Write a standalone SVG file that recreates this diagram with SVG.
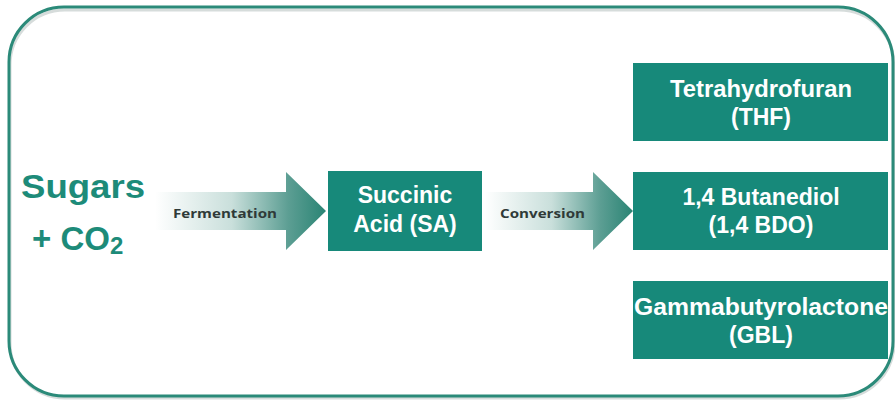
<svg xmlns="http://www.w3.org/2000/svg" width="895" height="401" viewBox="0 0 895 401">
  <defs>
    <linearGradient id="gradFerment" gradientUnits="userSpaceOnUse" x1="155" y1="0" x2="326" y2="0">
      <stop offset="0" stop-color="#ffffff"/>
      <stop offset="0.45" stop-color="#c9dfdb"/>
      <stop offset="0.78" stop-color="#5c9e93"/>
      <stop offset="1" stop-color="#2a8474"/>
    </linearGradient>
    <linearGradient id="gradConvert" gradientUnits="userSpaceOnUse" x1="485" y1="0" x2="633" y2="0">
      <stop offset="0" stop-color="#ffffff"/>
      <stop offset="0.45" stop-color="#c9dfdb"/>
      <stop offset="0.78" stop-color="#5c9e93"/>
      <stop offset="1" stop-color="#2a8474"/>
    </linearGradient>
  </defs>
  <style>
    .frame { fill: none; stroke: #2b8a79; stroke-width: 3; }
    .shadow { fill: none; stroke: #d6dcdb; stroke-width: 3; }
    .box { fill: #17897a; }
    .boxText { font-family: "Liberation Sans", Arial, sans-serif; font-weight: bold; font-size: 23px; fill: #ffffff; text-anchor: middle; }
    .source { font-family: "Liberation Sans", Arial, sans-serif; font-weight: bold; font-size: 33px; fill: #1d8b79; }
    .stepLabel { font-family: "Open Sans", "Liberation Sans", sans-serif; font-weight: bold; font-size: 13px; fill: #2f3a38; }
  </style>

  <rect width="895" height="401" fill="#ffffff"/>

  <!-- outer frame -->
  <rect class="shadow" x="10" y="10" width="884" height="388" rx="55" ry="55"/>
  <rect class="frame" x="9" y="7" width="884" height="389" rx="55" ry="55"/>

  <!-- source text -->
  <g id="sugars">
    <text class="source" x="21" y="198" textLength="124" lengthAdjust="spacingAndGlyphs">Sugars</text>
    <text class="source" x="32" y="250">+ CO<tspan font-size="24" dy="4">2</tspan></text>
  </g>

  <!-- process arrows -->
  <g id="connectors">
    <g id="fermentation">
      <polygon points="155,192 286,192 286,172 326,211 286,250 286,230 155,230" fill="url(#gradFerment)"/>
      <text class="stepLabel" x="173" y="218" textLength="104" lengthAdjust="spacingAndGlyphs">Fermentation</text>
    </g>
    <g id="conversion">
      <polygon points="485,192 593,192 593,172 633,211 593,250 593,230 485,230" fill="url(#gradConvert)"/>
      <text class="stepLabel" x="500" y="218" textLength="85" lengthAdjust="spacingAndGlyphs">Conversion</text>
    </g>
  </g>

  <!-- succinic acid -->
  <g id="succinic-acid">
    <rect class="box" x="328" y="171" width="154" height="80"/>
    <text class="boxText" x="405" y="203">Succinic</text>
    <text class="boxText" x="405" y="232">Acid (SA)</text>
  </g>

  <!-- products -->
  <g id="thf">
    <rect class="box" x="633" y="63" width="255" height="78"/>
    <text class="boxText" x="761" y="97" textLength="182" lengthAdjust="spacingAndGlyphs">Tetrahydrofuran</text>
    <text class="boxText" x="761" y="125">(THF)</text>
  </g>
  <g id="bdo">
    <rect class="box" x="633" y="172" width="255" height="78"/>
    <text class="boxText" x="761" y="205">1,4 Butanediol</text>
    <text class="boxText" x="761" y="233">(1,4 BDO)</text>
  </g>
  <g id="gbl">
    <rect class="box" x="633" y="281" width="255" height="78"/>
    <text class="boxText" x="761" y="315" textLength="254" lengthAdjust="spacingAndGlyphs">Gammabutyrolactone</text>
    <text class="boxText" x="761" y="343">(GBL)</text>
  </g>
</svg>
